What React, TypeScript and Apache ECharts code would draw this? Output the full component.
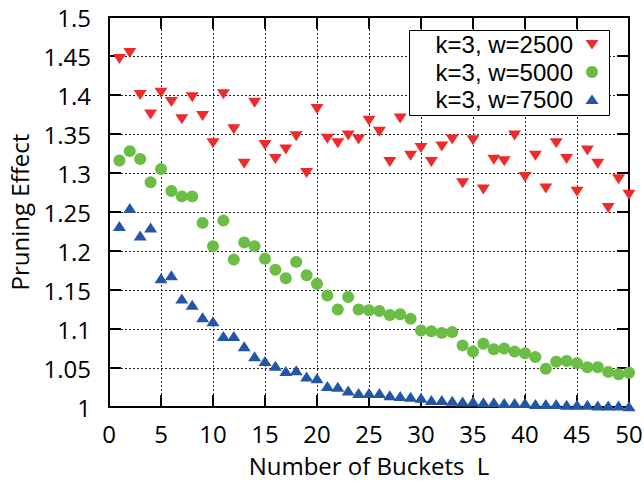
import React, { useEffect, useRef } from "react";
import * as echarts from "echarts";

const buckets = [
  1, 2, 3, 4, 5, 6, 7, 8, 9, 10, 11, 12, 13, 14, 15, 16, 17, 18, 19, 20, 21, 22, 23, 24, 25,
  26, 27, 28, 29, 30, 31, 32, 33, 34, 35, 36, 37, 38, 39, 40, 41, 42, 43, 44, 45, 46, 47, 48, 49, 50,
];

const w2500 = [
  1.446, 1.454, 1.4, 1.375, 1.403, 1.391, 1.369, 1.397, 1.373, 1.338,
  1.401, 1.356, 1.312, 1.39, 1.336, 1.318, 1.33, 1.347, 1.3, 1.382,
  1.344, 1.338, 1.348, 1.343, 1.367, 1.353, 1.314, 1.37, 1.322, 1.332,
  1.314, 1.334, 1.343, 1.287, 1.342, 1.279, 1.317, 1.315, 1.348, 1.295,
  1.322, 1.28, 1.338, 1.318, 1.276, 1.329, 1.312, 1.255, 1.292, 1.272,
];

const w5000 = [
  1.316, 1.328, 1.318, 1.288, 1.305, 1.277, 1.27, 1.27, 1.236, 1.206,
  1.239, 1.189, 1.211, 1.206, 1.19, 1.176, 1.165, 1.186, 1.169, 1.158,
  1.143, 1.125, 1.141, 1.125, 1.124, 1.123, 1.118, 1.119, 1.113, 1.098,
  1.097, 1.095, 1.096, 1.079, 1.071, 1.081, 1.074, 1.075, 1.071, 1.069,
  1.064, 1.049, 1.058, 1.059, 1.056, 1.051, 1.051, 1.045, 1.042, 1.044,
];

const w7500 = [
  1.232, 1.255, 1.22, 1.23, 1.165, 1.169, 1.139, 1.131, 1.115, 1.11,
  1.091, 1.091, 1.078, 1.065, 1.059, 1.053, 1.046, 1.047, 1.039, 1.037,
  1.027, 1.026, 1.021, 1.018, 1.018, 1.018, 1.015, 1.014, 1.013, 1.012,
  1.009, 1.009, 1.008, 1.007, 1.007, 1.006, 1.006, 1.005, 1.005, 1.005,
  1.004, 1.004, 1.004, 1.003, 1.003, 1.003, 1.002, 1.002, 1.002, 1.001,
];

const seriesNames = ["k=3, w=2500", "k=3, w=5000", "k=3, w=7500"];
const seriesColors = ["#ee2a2b", "#6cbd45", "#2356a6"];
const xTitle = "Number of Buckets  L";
const yTitle = "Pruning Effect";

const FONT = "Open Sans";
const LEGEND_FONT = "Liberation Sans";

function pairs(ys: number[]) {
  return buckets.map((x, i) => [x, ys[i]]);
}

function legendGraphic() {
  const boxX = 409, boxY = 30, boxW = 200, boxH = 85;
  const textRight = 573;
  const iconX = 592;
  const rows = [44.5, 72, 99.5];
  const els: any[] = [
    {
      type: "rect",
      shape: { x: boxX + 0.5, y: boxY + 0.5, width: boxW, height: boxH },
      style: { fill: "#fff", stroke: "#000", lineWidth: 1 },
      z: 100,
    },
  ];
  rows.forEach((cy, i) => {
    els.push({
      type: "text",
      x: textRight,
      y: cy,
      style: {
        text: seriesNames[i],
        fontSize: 24,
        lineHeight: 25,
        fontFamily: LEGEND_FONT,
        fill: "#000",
        textAlign: "right",
        textVerticalAlign: "middle",
      },
      z: 101,
    });
  });
  els.push({
    type: "polygon",
    shape: { points: [[iconX - 6.5, rows[0] - 4.5], [iconX + 6.5, rows[0] - 4.5], [iconX, rows[0] + 5]] },
    style: { fill: seriesColors[0] },
    z: 101,
  });
  els.push({
    type: "circle",
    shape: { cx: iconX, cy: rows[1], r: 6 },
    style: { fill: seriesColors[1] },
    z: 101,
  });
  els.push({
    type: "polygon",
    shape: { points: [[iconX - 6.5, rows[2] + 4.5], [iconX + 6.5, rows[2] + 4.5], [iconX, rows[2] - 5]] },
    style: { fill: seriesColors[2] },
    z: 101,
  });
  return els;
}

export default function App() {
  const ref = useRef<HTMLDivElement>(null);
  useEffect(() => {
    if (!ref.current) return;
    const chart = echarts.init(ref.current, null, { renderer: "svg" });
    const axisLine = { show: true, onZero: false, lineStyle: { color: "#000", width: 2 } };
    const axisTick = { show: true, inside: true, length: 12, lineStyle: { color: "#000", width: 2 } };
    const split = { show: true, lineStyle: { color: "#222", width: 1, type: [2, 2] } };
    chart.setOption({
      animation: false,
      backgroundColor: "#fff",
      textStyle: { fontFamily: FONT },
      grid: { left: 109, right: 15, top: 17, bottom: 76, containLabel: false, outerBoundsMode: "none" },
      graphic: legendGraphic(),
      xAxis: [
        {
          type: "value",
          min: 0,
          max: 50,
          interval: 5,
          position: "bottom",
          axisLine,
          axisTick,
          axisLabel: { fontSize: 24, color: "#000", margin: 14, fontFamily: FONT },
          splitLine: split,
          name: xTitle,
          nameLocation: "middle",
          nameGap: 46,
          nameTextStyle: { fontSize: 24, color: "#000", fontFamily: FONT },
        },
        {
          type: "value",
          min: 0,
          max: 50,
          interval: 5,
          position: "top",
          axisLine,
          axisTick,
          axisLabel: { show: false },
          splitLine: { show: false },
        },
      ],
      yAxis: [
        {
          type: "value",
          min: 1,
          max: 1.5,
          interval: 0.05,
          position: "left",
          axisLine,
          axisTick,
          axisLabel: { fontSize: 24, color: "#000", margin: 18, fontFamily: FONT },
          splitLine: split,
          name: yTitle,
          nameLocation: "middle",
          nameGap: 78,
          nameTextStyle: { fontSize: 24, color: "#000", fontFamily: FONT },
        },
        {
          type: "value",
          min: 1,
          max: 1.5,
          interval: 0.05,
          position: "right",
          axisLine,
          axisTick,
          axisLabel: { show: false },
          splitLine: { show: false },
        },
      ],
      series: [
        {
          name: seriesNames[0],
          type: "scatter",
          xAxisIndex: 0,
          yAxisIndex: 0,
          symbol: "triangle",
          symbolRotate: 180,
          symbolSize: [13, 10],
          itemStyle: { color: seriesColors[0], opacity: 1 },
          data: pairs(w2500),
        },
        {
          name: seriesNames[1],
          type: "scatter",
          xAxisIndex: 0,
          yAxisIndex: 0,
          symbol: "circle",
          symbolSize: 12,
          itemStyle: { color: seriesColors[1], opacity: 1 },
          data: pairs(w5000),
        },
        {
          name: seriesNames[2],
          type: "scatter",
          xAxisIndex: 0,
          yAxisIndex: 0,
          symbol: "triangle",
          symbolSize: [13, 10],
          itemStyle: { color: seriesColors[2], opacity: 1 },
          data: pairs(w7500),
        },
      ],
    });
    return () => chart.dispose();
  }, []);
  return <div ref={ref} style={{ width: 644, height: 483, position: "absolute", left: 0, top: 0 }} />;
}
